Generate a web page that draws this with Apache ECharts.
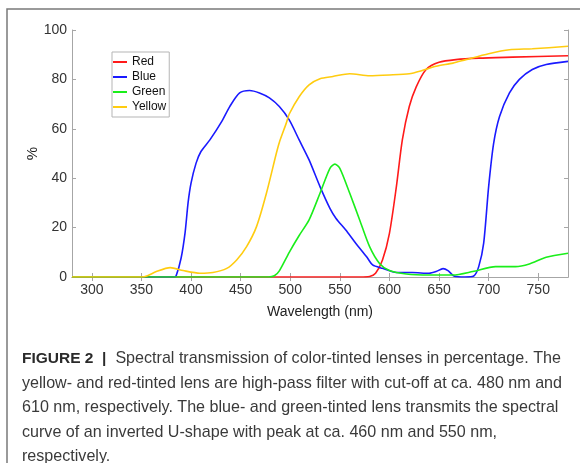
<!DOCTYPE html>
<html>
<head>
<meta charset="utf-8">
<script src="https://cdn.jsdelivr.net/npm/echarts@6/dist/echarts.min.js"></script>
<style>
    html, body { margin: 0; padding: 0; background: #fff; }
    #chart { width: 580px; height: 463px; }
</style>
</head>
<body>
<div id="chart"></div>
<script>
    // wavelength (nm) / transmission (%)
    var redNm = [280, 570, 580, 586, 593, 600, 607, 613, 620, 627, 637, 650, 667, 690, 724, 780];
    var redVal = [0, 0, 0.2, 1.5, 6.9, 17.7, 36.6, 55.5, 69, 77, 84, 86.9, 88, 88.6, 89, 89.6];

    var blueNm = [280, 383, 385, 390, 394, 397, 400, 405, 410, 419, 431, 439, 449, 459, 469, 479, 489, 499, 509, 519, 530, 540, 546, 556, 566, 577, 583, 593, 607, 623, 640, 647, 654, 659, 665, 676, 685, 690, 695, 700, 705, 711, 721, 731, 744, 758, 780];
    var blueVal = [0, 0, 0.5, 7.7, 18, 30, 38, 46, 50.8, 55.5, 63, 69, 74.5, 75.5, 74.5, 72.5, 69, 63.6, 55.5, 47.4, 36.6, 27.8, 23.8, 19, 13.7, 8.2, 4.9, 3.5, 1.8, 1.8, 1.5, 2.2, 3.4, 2.6, 0.4, 0, 0.4, 4.2, 13.7, 36.6, 54, 65, 74.5, 80, 84, 86, 87.3];

    var greenNm = [280, 478, 484, 489, 499, 509, 519, 530, 540, 545, 550, 560, 570, 580, 590, 600, 617, 640, 664, 684, 707, 727, 741, 758, 780];
    var greenVal = [0, 0, 0.5, 2.5, 10, 16.8, 23.1, 33.9, 44, 45.7, 44, 33.9, 23.1, 12.3, 5.5, 2.6, 1.2, 0.8, 0.8, 2.2, 4.2, 4.2, 5.3, 8, 9.6];

    var yellowNm = [280, 350, 356, 365, 379, 392, 409, 422, 436, 446, 456, 466, 476, 486, 489, 496, 499, 509, 519, 530, 543, 560, 580, 600, 620, 633, 647, 664, 677, 700, 721, 744, 780];
    var yellowVal = [0, 0, 0.5, 2.2, 3.8, 2.6, 1.5, 1.8, 3.5, 6.9, 12.3, 20.4, 33.9, 50.1, 54.5, 62.3, 66, 73, 77.8, 80.3, 81.2, 82.3, 81.5, 81.8, 82.3, 83.6, 85.3, 86.6, 88, 90.4, 92, 92.4, 93.4];

    var xTicks = [300, 350, 400, 450, 500, 550, 600, 650, 700, 750];

    var captionLines = [
        '{b|FIGURE 2  |}  Spectral transmission of color-tinted lenses in percentage. The',
        'yellow- and red-tinted lens are high-pass filter with cut-off at ca. 480 nm and',
        '610 nm, respectively. The blue- and green-tinted lens transmits the spectral',
        'curve of an inverted U-shape with peak at ca. 460 nm and 550 nm,',
        'respectively.'
    ];

    function pairs(xs, ys) {
        var out = [];
        for (var i = 0; i < xs.length; i++) {
            out.push([xs[i], ys[i]]);
        }
        return out;
    }

    var font = 'Liberation Sans';
    var axisGrey = '#a6a6a6';

    var myChart = echarts.init(document.getElementById('chart'));

    var graphics = [{
        type: 'rect',
        shape: {x: 7, y: 9, width: 640, height: 520},
        style: {fill: 'none', stroke: '#7a7a7a', lineWidth: 1.5},
        silent: true
    }];
    var lineY = [360, 384.5, 409, 433.5, 457.5];
    for (var i = 0; i < captionLines.length; i++) {
        graphics.push({
            type: 'text',
            left: 22,
            top: lineY[i] - 9,
            style: {
                text: captionLines[i],
                fontFamily: font,
                fontSize: 16.1,
                fill: '#3a3a3a',
                rich: {
                    b: {fontWeight: 'bold', fontFamily: font, fontSize: 15.5, fill: '#2a2a2a'}
                }
            }
        });
    }

    var option = {
        animation: false,
        textStyle: {fontFamily: font},
        grid: {left: 72, right: 12, top: 30, bottom: 186, containLabel: false},
        legend: {
            data: ['Red', 'Blue', 'Green', 'Yellow'],
            orient: 'vertical',
            left: 112,
            top: 52,
            padding: [3, 3, 3, 1],
            itemGap: 1,
            itemWidth: 14,
            itemHeight: 2,
            itemTextGap: 2,
            icon: 'rect',
            backgroundColor: '#fff',
            borderColor: '#b5b5b5',
            borderWidth: 1,
            borderRadius: 0,
            textStyle: {fontSize: 12, color: '#111', fontFamily: font, lineHeight: 14}
        },
        xAxis: [{
            type: 'value',
            min: 280,
            max: 780,
            name: 'Wavelength (nm)',
            nameLocation: 'middle',
            nameGap: 28,
            nameTextStyle: {fontSize: 14, color: '#222', fontFamily: font},
            axisLine: {show: true, lineStyle: {color: axisGrey, width: 1}},
            axisTick: {show: true, inside: true, length: 4, customValues: xTicks, lineStyle: {color: axisGrey}},
            axisLabel: {customValues: xTicks, fontSize: 14, color: '#333', margin: 6, fontFamily: font},
            splitLine: {show: false}
        }, {
            type: 'value',
            position: 'top',
            min: 280,
            max: 780,
            axisLine: {show: true, lineStyle: {color: axisGrey, width: 1}},
            axisTick: {show: true, inside: true, length: 4, customValues: xTicks, lineStyle: {color: axisGrey}},
            axisLabel: {show: false},
            splitLine: {show: false}
        }],
        yAxis: [{
            type: 'value',
            min: 0,
            max: 100,
            interval: 20,
            name: '%',
            nameLocation: 'middle',
            nameRotate: 90,
            nameGap: 32,
            nameMoveOverlap: false,
            nameTextStyle: {fontSize: 15, color: '#222', fontFamily: font},
            axisLine: {show: true, lineStyle: {color: axisGrey, width: 1}},
            axisTick: {show: true, inside: true, length: 4, lineStyle: {color: axisGrey}},
            axisLabel: {fontSize: 14, color: '#333', margin: 5, fontFamily: font},
            splitLine: {show: false}
        }, {
            type: 'value',
            position: 'right',
            min: 0,
            max: 100,
            interval: 20,
            axisLine: {show: true, lineStyle: {color: axisGrey, width: 1}},
            axisTick: {show: true, inside: true, length: 4, lineStyle: {color: axisGrey}},
            axisLabel: {show: false},
            splitLine: {show: false}
        }],
        series: [
            {
                name: 'Red', type: 'line', smooth: 0.25, showSymbol: false,
                data: pairs(redNm, redVal),
                itemStyle: {color: '#ff1a1a'},
                lineStyle: {color: '#ff1a1a', width: 1.6}
            },
            {
                name: 'Blue', type: 'line', smooth: 0.25, showSymbol: false,
                data: pairs(blueNm, blueVal),
                itemStyle: {color: '#1a1aff'},
                lineStyle: {color: '#1a1aff', width: 1.6}
            },
            {
                name: 'Green', type: 'line', smooth: 0.25, showSymbol: false,
                data: pairs(greenNm, greenVal),
                itemStyle: {color: '#1aee1a'},
                lineStyle: {color: '#1aee1a', width: 1.6}
            },
            {
                name: 'Yellow', type: 'line', smooth: 0.25, showSymbol: false,
                data: pairs(yellowNm, yellowVal),
                itemStyle: {color: '#ffcc10'},
                lineStyle: {color: '#ffcc10', width: 1.6}
            }
        ],
        graphic: graphics
    };
    myChart.setOption(option);
</script>
</body>
</html>
